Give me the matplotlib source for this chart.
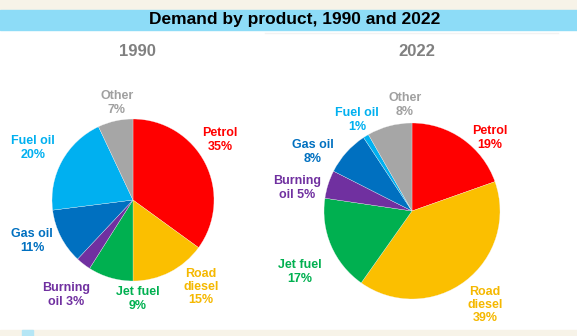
import matplotlib.pyplot as plt
from matplotlib.patches import Rectangle

plt.rcParams['font.family'] = ['Liberation Sans', 'DejaVu Sans']

# share of demand by product (%)
products = ["Petrol", "Road diesel", "Jet fuel", "Burning oil", "Gas oil", "Fuel oil", "Other"]
share_1990 = [35, 15, 9, 3, 11, 20, 7]
share_2022 = [19, 39, 17, 5, 8, 1, 8]

label_fmt = ["Petrol\n{}%", "Road\ndiesel\n{}%", "Jet fuel\n{}%", "Burning\noil {}%",
             "Gas oil\n{}%", "Fuel oil\n{}%", "Other\n{}%"]
slice_colors = ["#ff0000", "#fbbf00", "#00b050", "#7030a0", "#0070c0", "#00b0f0", "#a6a6a6"]
text_colors = ["#ff0000", "#f5b800", "#00b050", "#7030a0", "#0070c0", "#00b0f0", "#a0a0a0"]

W, H = 577, 336
fig = plt.figure(figsize=(W / 100, H / 100), dpi=100)
ax = fig.add_axes([0, 0, 1, 1])
ax.set_xlim(0, W)
ax.set_ylim(0, H)
ax.set_aspect('equal')
ax.axis('off')


def Y(y):
    # pixel row measured from the top
    return H - y


# background bands
ax.add_patch(Rectangle((0, Y(9.5)), W, 9.5, color="#f7f3e8", zorder=0))
ax.add_patch(Rectangle((0, Y(29.5)), W, 20, color="#8ddcf7", zorder=0))
ax.add_patch(Rectangle((0, 0), W, 6, color="#f7f3e8", zorder=0))
ax.add_patch(Rectangle((22, 0), 11, 6, color="#b5e6f5", zorder=1))
ax.plot([265, 558], [Y(33), Y(33)], color="#f2f2f2", lw=1, zorder=0)

ax.text(295, Y(19.5), "Demand by product, 1990 and 2022", ha="center", va="center",
        fontsize=12.5, fontweight="bold", color="black")

pies = [
    (share_1990, "1990", (137, 52), (133, 200), 81,
     [(201, 287), (138, 299), (66, 295), (32, 241), (33, 148), (117, 103)], (220, 140)),
    (share_2022, "2022", (417, 52), (412, 211), 88,
     [(485, 305), (300, 272), (297, 188), (313, 152), (357, 120), (405, 105)], (490, 138)),
]

for shares, year, title_xy, center, radius, other_xy, petrol_xy in pies:
    ax.text(title_xy[0], Y(title_xy[1]), year, ha="center", va="center",
            fontsize=12, fontweight="bold", color="#808080")
    ax.pie(shares, colors=slice_colors, startangle=90, counterclock=False,
           center=(center[0], Y(center[1])), radius=radius, frame=True,
           wedgeprops=dict(linewidth=0.2, edgecolor="#f5f5f5"))
    positions = [petrol_xy] + other_xy
    for fmt, val, col, (lx, ly) in zip(label_fmt, shares, text_colors, positions):
        ax.text(lx, Y(ly), fmt.format(val), ha="center", va="center",
                fontsize=9, fontweight="bold", color=col, linespacing=1.15)

ax.set_xlim(0, W)
ax.set_ylim(0, H)
ax.axis('off')

fig.savefig("out.png", dpi=100, facecolor="white")
